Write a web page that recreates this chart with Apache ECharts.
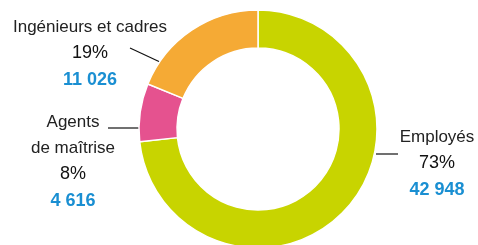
<!DOCTYPE html>
<html><head><meta charset="utf-8">
<script src="https://cdn.jsdelivr.net/npm/echarts@6/dist/echarts.min.js"></script>
<style>html,body{margin:0;padding:0;background:#fff}#c{width:478px;height:245px}</style>
</head><body><div id="c"></div>
<script>
const categories = ['Employés', 'Agents\nde maîtrise', 'Ingénieurs et cadres'];
const values = [42948, 4616, 11026];
const colors = ['#c8d400', '#e5528f', '#f5aa35'];

// label anchor placement (x, y of label centre) and leader line points
const labelPlacement = [
  { x: 437, y: 164, line: [[376, 154], [398, 154]] },
  { x: 73, y: 162, line: [[139, 128], [108, 128]] },
  { x: 90, y: 54, line: [[160, 62], [130, 48]] }
];

const fmt = n => String(n).replace(/\B(?=(\d{3})+(?!\d))/g, ' ');
const FONT = '"Liberation Sans", Arial, sans-serif';

const chart = echarts.init(document.getElementById('c'));
chart.setOption({
  animation: false,
  series: [{
    type: 'pie',
    center: [258, 129],
    radius: [81, 119],
    startAngle: 90,
    clockwise: true,
    data: categories.map((c, i) => ({ name: c, value: values[i], itemStyle: { color: colors[i] } })),
    itemStyle: { borderColor: '#fff', borderWidth: 1.5 },
    label: {
      show: true,
      position: 'outside',
      align: 'center',
      overflow: 'none',
      width: 300,
      fontFamily: FONT,
      formatter: p => p.name.split('\n').map(s => '{n|' + s + '}').join('\n') + '\n{p|' + Math.round(p.percent) + '%}\n{v|' + fmt(p.value) + '}',
      rich: {
        n: { fontFamily: FONT, fontSize: 17, color: '#222', lineHeight: 26, align: 'center' },
        p: { fontFamily: FONT, fontSize: 18, color: '#111', lineHeight: 27, align: 'center' },
        v: { fontFamily: FONT, fontSize: 18, color: '#1a8fd2', lineHeight: 27, align: 'center', fontWeight: 'bold' }
      }
    },
    labelLine: { show: true, lineStyle: { color: '#111', width: 1.2 } },
    labelLayout: params => {
      const L = labelPlacement[params.dataIndex];
      return { x: L.x, y: L.y, align: 'center', verticalAlign: 'middle', labelLinePoints: L.line };
    }
  }]
});
</script></body></html>
